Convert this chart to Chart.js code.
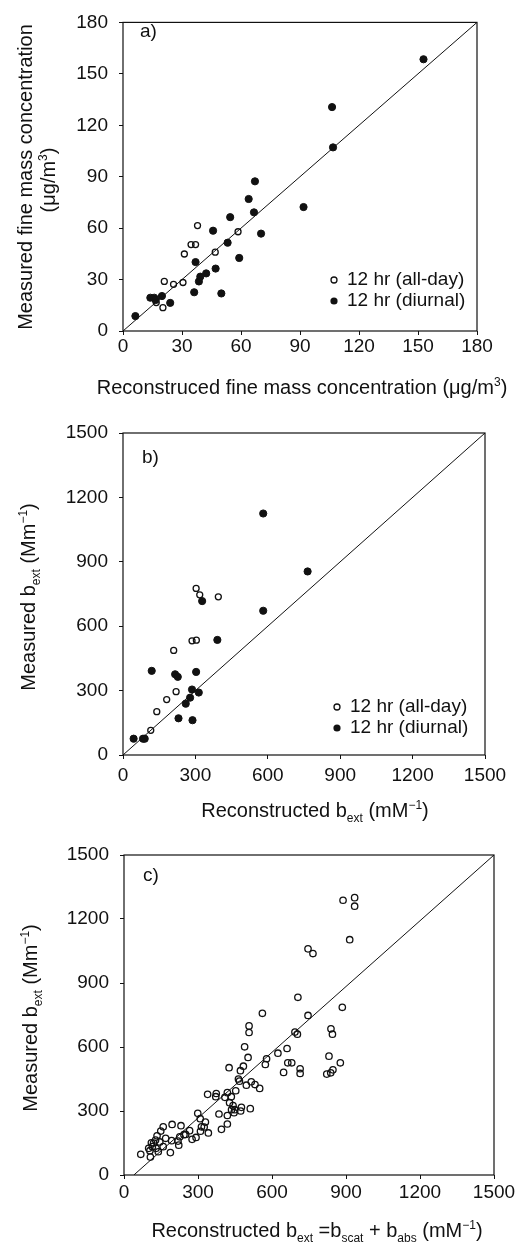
<!DOCTYPE html>
<html>
<head>
<meta charset="utf-8">
<script src="https://cdn.jsdelivr.net/npm/chart.js@4.4.1/dist/chart.umd.min.js"></script>
<style>
  body { margin: 0; background: #fff; }
  .panel { position: absolute; left: 0; }
</style>
</head>
<body>
<div class="panel" style="top:0px"><canvas id="panelA" width="519" height="400"></canvas></div>
<div class="panel" style="top:380px"><canvas id="panelB" width="519" height="460"></canvas></div>
<div class="panel" style="top:800px"><canvas id="panelC" width="519" height="442"></canvas></div>
<script>
// ---- data ----
const ticksA = [0, 30, 60, 90, 120, 150, 180];
const ticksBC = [0, 300, 600, 900, 1200, 1500];

// a) fine mass (ug/m3)
const aAllDayX = [37.9, 34.6, 36.9, 31.2, 46.9, 58.5, 21.0, 25.7, 30.5, 20.3, 16.9];
const aAllDayY = [61.5, 50.4, 50.4, 44.9, 46.0, 57.9, 28.9, 27.2, 28.3, 13.6, 16.6];
const aDiurnalX = [152.8, 106.3, 106.8, 67.1, 63.9, 66.6, 54.5, 91.8, 45.8, 70.2, 53.2, 59.1, 36.9, 47.1, 42.3, 39.3, 38.6, 36.2, 50.0, 24.0, 19.8, 13.9, 15.9, 16.6, 6.3];
const aDiurnalY = [158.5, 130.6, 107.1, 87.3, 77.0, 69.2, 66.4, 72.3, 58.5, 56.8, 51.5, 42.6, 40.2, 36.4, 33.6, 31.7, 28.9, 22.6, 21.9, 16.4, 20.4, 19.4, 19.4, 18.1, 8.7];
const aLineX = [0, 180];
const aLineY = [0, 180];

// b) b_ext (Mm-1)
const bAllDayX = [303, 318, 395, 286, 304, 210, 220, 181, 140, 115];
const bAllDayY = [776, 746, 737, 532, 535, 487, 295, 258, 202, 115];
const bDiurnalX = [581, 765, 581, 328, 391, 119, 216, 227, 303, 286, 314, 278, 260, 230, 288, 44, 83, 90];
const bDiurnalY = [1125, 855, 672, 717, 536, 392, 376, 364, 387, 305, 291, 267, 239, 171, 162, 76, 76, 76];
const bLineX = [0, 1500];
const bLineY = [0, 1500];

// c) b_ext = b_scat + b_abs
const cX = [888, 935, 935, 915, 746, 766, 705, 561, 746, 885, 507, 507, 693, 703, 839, 845,
  489, 503, 578, 573, 624, 661, 664, 680, 647, 714, 714, 831, 877, 822, 838, 847,
  426, 484, 472, 464, 468, 496, 516, 531, 550, 453, 419, 339, 374, 372, 409, 435, 428, 442,
  436, 449, 476, 473, 512, 446, 385, 419, 419, 395,
  299, 309, 330, 314, 342, 292, 266, 231, 195, 159, 149, 134, 128, 169, 193, 219, 226, 243,
  222, 188, 159, 139, 115, 111, 105, 107, 68, 276, 120, 145, 100, 130, 250, 310, 325];
const cY = [1288, 1300, 1260, 1103, 1060, 1038, 833, 758, 748, 786, 699, 668, 670, 660, 685, 660,
  601, 551, 545, 518, 571, 593, 526, 526, 481, 498, 476, 557, 526, 473, 479, 493,
  503, 510, 489, 450, 440, 421, 437, 424, 406, 395, 386, 378, 382, 367, 364, 367, 339, 325,
  306, 306, 317, 300, 311, 292, 286, 279, 239, 214,
  289, 264, 248, 226, 197, 176, 208, 231, 237, 226, 206, 184, 164, 172, 161, 159, 179, 189,
  140, 105, 133, 109, 133, 151, 114, 84, 97, 167, 150, 155, 125, 125, 190, 205, 225];
const cLineX = [40, 1500];
const cLineY = [0, 1500];

const FONT = "'Liberation Sans', Arial, Helvetica, sans-serif";
const INK = '#111';

function pts(xs, ys) { return xs.map((x, i) => ({ x: x, y: ys[i] })); }

// draw a run of text pieces, some sub/superscript, centred on (0,0)
function drawRich(ctx, segs, size) {
  const small = Math.round(size * 0.62);
  let total = 0;
  segs.forEach(s => {
    ctx.font = ((s.sub || s.sup) ? small : size) + 'px ' + FONT;
    s.w = ctx.measureText(s.t).width;
    total += s.w;
  });
  let x = -total / 2;
  const base = size * 0.36;
  ctx.textAlign = 'left';
  ctx.textBaseline = 'alphabetic';
  segs.forEach(s => {
    ctx.font = ((s.sub || s.sup) ? small : size) + 'px ' + FONT;
    let dy = 0;
    if (s.sub) dy = size * 0.26;
    if (s.sup) dy = -size * 0.42;
    ctx.fillText(s.t, x, base + dy);
    x += s.w;
  });
}

const panelDecor = {
  id: 'panelDecor',
  afterDraw(chart, args, o) {
    const { ctx, chartArea } = chart;
    ctx.save();
    ctx.strokeStyle = INK;
    ctx.lineWidth = 1.2;
    ctx.strokeRect(chartArea.left, chartArea.top, chartArea.right - chartArea.left, chartArea.bottom - chartArea.top);
    ctx.fillStyle = INK;

    // panel letter
    ctx.font = '19px ' + FONT;
    ctx.textAlign = 'left';
    ctx.textBaseline = 'middle';
    ctx.fillText(o.letter, o.letterPos[0], o.letterPos[1]);

    // legend
    if (o.legend) {
      const [lx, ly, gap] = o.legend;
      ctx.lineWidth = 1.3;
      ctx.beginPath();
      ctx.arc(lx, ly, 3, 0, Math.PI * 2);
      ctx.stroke();
      ctx.beginPath();
      ctx.arc(lx, ly + gap, 3.6, 0, Math.PI * 2);
      ctx.fill();
      ctx.font = '19px ' + FONT;
      ctx.fillText('12 hr (all-day)', lx + 13, ly);
      ctx.fillText('12 hr (diurnal)', lx + 13, ly + gap);
    }

    // axis titles
    o.xTitle.forEach(t => {
      ctx.save();
      ctx.translate(t.pos[0], t.pos[1]);
      drawRich(ctx, t.segs, 20);
      ctx.restore();
    });
    o.yTitle.forEach(t => {
      ctx.save();
      ctx.translate(t.pos[0], t.pos[1]);
      ctx.rotate(-Math.PI / 2);
      drawRich(ctx, t.segs, 20);
      ctx.restore();
    });
    ctx.restore();
  }
};

function axis(min, max, ticks, fitFn, pad) {
  return {
    type: 'linear',
    min: min,
    max: max,
    afterBuildTicks: s => { s.ticks = ticks.map(v => ({ value: v })); },
    afterFit: fitFn,
    grid: { drawOnChartArea: false, drawTicks: true, tickLength: 4, color: INK },
    border: { display: false },
    ticks: {
      color: INK, font: { family: FONT, size: 19 }, padding: pad,
      maxRotation: 0, autoSkip: false, callback: v => String(v)
    }
  };
}

function makePanel(id, p) {
  new Chart(document.getElementById(id), {
    type: 'scatter',
    data: {
      datasets: [
        { type: 'line', data: pts(p.lineX, p.lineY), borderColor: INK, borderWidth: 1, pointRadius: 0, fill: false },
        { data: pts(p.openX, p.openY), pointRadius: p.openR, borderWidth: 1.3, borderColor: INK, backgroundColor: 'rgba(0,0,0,0)' },
        { data: pts(p.fillX, p.fillY), pointRadius: 3.6, borderWidth: 1, borderColor: INK, backgroundColor: INK }
      ]
    },
    options: {
      responsive: false,
      animation: false,
      events: [],
      layout: { padding: { left: 0, top: p.top, right: p.right, bottom: 0 } },
      plugins: { legend: { display: false }, tooltip: { enabled: false }, panelDecor: p.decor },
      scales: {
        x: axis(p.min, p.max, p.ticks, s => { s.height = p.xh; }, p.xpad),
        y: axis(p.min, p.max, p.ticks, s => { s.width = p.left; }, 11)
      }
    },
    plugins: [panelDecor]
  });
}

const sup3 = [{ t: '3', sup: true }];
const minusOne = [{ t: '\u22121', sup: true }];

// panel A canvas: page y 0..400
makePanel('panelA', {
  min: 0, max: 180, ticks: ticksA, openR: 3,
  lineX: aLineX, lineY: aLineY,
  openX: aAllDayX, openY: aAllDayY, fillX: aDiurnalX, fillY: aDiurnalY,
  top: 13, right: 42, left: 123, xh: 69, xpad: 0,
  decor: {
    letter: 'a)', letterPos: [140, 32],
    legend: [334, 280, 21],
    xTitle: [{ pos: [302, 387], segs: [{ t: 'Reconstruced fine mass concentration (\u03bcg/m' }, ...sup3, { t: ')' }] }],
    yTitle: [
      { pos: [25, 177], segs: [{ t: 'Measured fine mass concentration' }] },
      { pos: [48, 180], segs: [{ t: '(\u03bcg/m' }, ...sup3, { t: ')' }] }
    ]
  }
});

// panel B canvas: page y 380..840
makePanel('panelB', {
  min: 0, max: 1500, ticks: ticksBC, openR: 3,
  lineX: bLineX, lineY: bLineY,
  openX: bAllDayX, openY: bAllDayY, fillX: bDiurnalX, fillY: bDiurnalY,
  top: 53, right: 34, left: 123, xh: 85, xpad: 5,
  decor: {
    letter: 'b)', letterPos: [142, 78],
    legend: [337, 327, 21],
    xTitle: [{ pos: [315, 430], segs: [{ t: 'Reconstructed b' }, { t: 'ext', sub: true }, { t: ' (mM' }, ...minusOne, { t: ')' }] }],
    yTitle: [{ pos: [28, 217], segs: [{ t: 'Measured b' }, { t: 'ext', sub: true }, { t: ' (Mm' }, ...minusOne, { t: ')' }] }]
  }
});

// panel C canvas: page y 800..1242
makePanel('panelC', {
  min: 0, max: 1500, ticks: ticksBC, openR: 3.2,
  lineX: cLineX, lineY: cLineY,
  openX: cX, openY: cY, fillX: [], fillY: [],
  top: 55, right: 25, left: 124, xh: 67, xpad: 2,
  decor: {
    letter: 'c)', letterPos: [143, 76],
    legend: null,
    xTitle: [{ pos: [317, 430], segs: [{ t: 'Reconstructed b' }, { t: 'ext', sub: true }, { t: ' =b' }, { t: 'scat', sub: true }, { t: ' + b' }, { t: 'abs', sub: true }, { t: ' (mM' }, ...minusOne, { t: ')' }] }],
    yTitle: [{ pos: [30, 218], segs: [{ t: 'Measured b' }, { t: 'ext', sub: true }, { t: ' (Mm' }, ...minusOne, { t: ')' }] }]
  }
});
</script>
</body>
</html>
